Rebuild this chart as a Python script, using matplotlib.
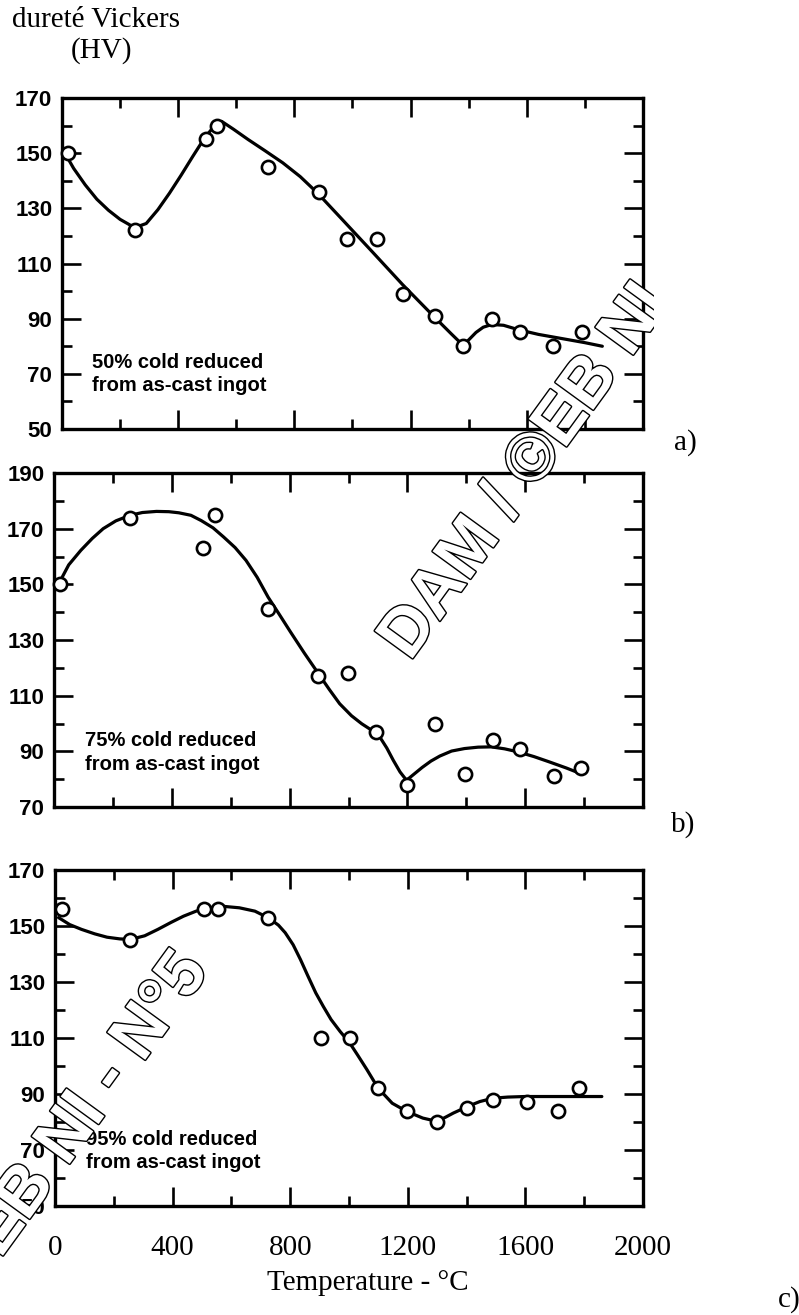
import matplotlib.pyplot as plt
import matplotlib.patheffects as pe
from matplotlib.transforms import Bbox

W, H = 799, 1315

# measured points: annealing temperature (°C) and Vickers hardness
temp_a = [20, 250, 495, 535, 710, 885, 980, 1085, 1175, 1285, 1380, 1480, 1575, 1690, 1790]
hv_a = [150, 122, 155, 160, 145, 136, 119, 119, 99, 91, 80, 90, 85, 80, 85]

temp_b = [20, 258, 505, 545, 727, 898, 997, 1095, 1197, 1295, 1394, 1489, 1583, 1697, 1788]
hv_b = [150, 174, 163, 175, 141, 117, 118, 97, 78, 100, 82, 94, 91, 81, 84]

temp_c = [25, 256, 506, 555, 726, 905, 1002, 1099, 1196, 1300, 1402, 1490, 1607, 1711, 1783]
hv_c = [156, 145, 156, 156, 153, 110, 110, 92, 84, 80, 85, 88, 87, 84, 92]

# hand-drawn trend curves through the points
curve_a_t = [10, 40, 80, 120, 160, 200, 250, 290, 330, 370, 410, 450, 490, 520, 550, 590, 640,
             700, 760, 820, 880, 958, 1065, 1172, 1280, 1340, 1379, 1400, 1425, 1450, 1480,
             1520, 1571, 1640, 1720, 1800, 1860]
curve_a_hv = [150, 144.5, 138.5, 133.3, 129.3, 126, 123, 124.5, 129.5, 135.5, 142, 148.8, 155.4, 159.3, 161.5, 158.7, 155,
              150.8, 146.5, 141.5, 135.5, 126.7, 114.6, 102.4, 90.8, 84.5, 80.5, 82.3, 85, 86.9, 87.9,
              87.6, 86, 84.3, 82.8, 81.3, 80]

curve_b_t = [15, 50, 91, 130, 167, 210, 258, 300, 348, 390, 424, 465, 500, 540, 576, 615, 652, 690, 727, 765, 803,
             850, 898, 935, 970, 1010, 1045, 1080, 1106, 1130, 1152, 1175, 1197, 1220, 1250, 1280, 1310,
             1350, 1394, 1440, 1485, 1530, 1576, 1630, 1682, 1740, 1788]
curve_b_hv = [150, 157, 162.2, 166.5, 170, 172.8, 174.8, 175.8, 176.2, 176.1, 175.7, 174.8, 172.9, 170.3, 167, 163.2, 158.6, 152.5, 145.4, 139.2, 132.9,
              125.3, 117.9, 112.2, 107.1, 102.8, 99.9, 97.5, 95.2, 91.2, 86.8, 82.6, 79.6, 81.6, 84.2, 86.5, 88.3,
              90.1, 91, 91.5, 91.6, 90.9, 89.8, 88.1, 86.2, 84, 82]

curve_c_t = [12, 50, 90, 135, 177, 220, 256, 305, 350, 395, 437, 480, 523, 575, 627, 680, 726, 760, 783, 810, 835, 860, 887,
             913, 939, 970, 1002, 1030, 1061, 1099, 1147, 1196, 1251, 1300, 1330, 1355, 1380, 1402, 1445, 1490, 1540,
             1598, 1719, 1860]
curve_c_hv = [153, 150.5, 148.8, 147.2, 146, 145.4, 145.2, 146.5, 148.8, 151.3, 153.5, 155.3, 156.5, 157, 156.5, 155.3, 152.9, 150.3, 147.6, 143.3, 138, 132.2, 126.1,
              121.2, 116.6, 112.3, 108.3, 103.8, 98.7, 92.1, 86.7, 83.8, 81.4, 80.2, 81.8, 83.2, 84.4, 85.5, 87.3, 88.5, 88.9,
              89.1, 89.1, 89.1]

notes = ['50% cold reduced\nfrom as-cast ingot',
         '75% cold reduced\nfrom as-cast ingot',
         '95% cold reduced\nfrom as-cast ingot']
note_pos = [(103, 70), (105, 89.6), (105, 69.6)]
ylims = [(50, 170), (70, 190), (50, 170)]
panel_tags = ['a)', 'b)', 'c)']
x_major = [0, 400, 800, 1200, 1600, 2000]
x_minor = [200, 600, 1000, 1400, 1800]

# axes boxes in pixels: left, top, right, bottom
boxes = [(62, 98, 643, 429), (54, 473, 643, 807), (55, 870, 643, 1206)]
tag_xy = [(685, 443), (683, 825), (789, 1300)]

plt.rcParams['font.family'] = ['Liberation Sans', 'DejaVu Sans']
serif = ['Liberation Serif', 'DejaVu Serif']

fig = plt.figure(figsize=(W / 100, H / 100), dpi=100)
fig.patch.set_facecolor('white')

series = [(temp_a, hv_a, curve_a_t, curve_a_hv),
          (temp_b, hv_b, curve_b_t, curve_b_hv),
          (temp_c, hv_c, curve_c_t, curve_c_hv)]

for i, (tx, hv, ct, chv) in enumerate(series):
    l, t, r, b = boxes[i]
    ax = fig.add_axes([l / W, 1 - b / H, (r - l) / W, (b - t) / H])
    ax.plot(ct, chv, color='black', lw=2.3, solid_joinstyle='round', solid_capstyle='round', zorder=2)
    ax.plot(tx, hv, 'o', ms=9.5, mfc='white', mec='black', mew=1.9, zorder=3, clip_on=False)
    lo, hi = ylims[i]
    ax.set_xlim(0, 2000)
    ax.set_ylim(lo, hi)

    ax.set_xticks(x_major)
    ax.set_xticks(x_minor, minor=True)
    ax.set_yticks(list(range(lo, hi + 1, 20)))
    ax.set_yticks(list(range(lo + 10, hi, 20)), minor=True)
    ax.tick_params(which='both', direction='in', top=True, right=True, width=1.9, color='black')
    ax.tick_params(which='major', length=13.5)
    ax.tick_params(which='minor', length=7)
    ax.tick_params(axis='y', which='major', labelsize=16, pad=7)
    for lab in ax.get_yticklabels():
        lab.set_fontweight('bold')
    for sp in ax.spines.values():
        sp.set_linewidth(2.4)

    if i < 2:
        ax.tick_params(axis='x', labelbottom=False)
    else:
        ax.set_xticklabels([str(v) for v in x_major], fontfamily=serif, fontsize=21)
        ax.tick_params(axis='x', which='major', pad=21)

    nx, ny = note_pos[i]
    ax.text(nx, ny, notes[i], fontsize=14.5, fontweight='bold', ha='left', va='center',
            linespacing=1.3)

    fig.text(tag_xy[i][0] / W, 1 - tag_xy[i][1] / H, panel_tags[i], fontfamily=serif,
             fontsize=21, ha='center', va='center')

fig.text(12 / W, 1 - 20 / H, 'dureté Vickers', fontfamily=serif, fontsize=21, ha='left', va='center')
fig.text(101 / W, 1 - 51 / H, '(HV)', fontfamily=serif, fontsize=21, ha='center', va='center')
fig.text(368 / W, 1 - 1283 / H, 'Temperature - °C', fontfamily=serif, fontsize=21,
         ha='center', va='center')

# hollow diagonal stamp across the page, cut off at the figure's right border
stamp = 'DAM / ©EB NI - N°5'
outline = [pe.withStroke(linewidth=2.0, foreground='black')]
top_stamp = fig.text(410 / W, 1 - 662 / H, stamp, fontsize=49, fontweight='bold', color='white',
                     rotation=54, rotation_mode='anchor', ha='left', va='baseline',
                     path_effects=outline, zorder=10)
top_stamp.set_clip_box(Bbox.from_extents(0, 0, 654, H))
top_stamp.set_clip_on(True)
fig.text(209 / W, 1 - 972 / H, stamp, fontsize=49, fontweight='bold', color='white',
         rotation=54, rotation_mode='anchor', ha='right', va='baseline',
         path_effects=outline, zorder=10)

fig.savefig('out.png', dpi=100, facecolor='white')
